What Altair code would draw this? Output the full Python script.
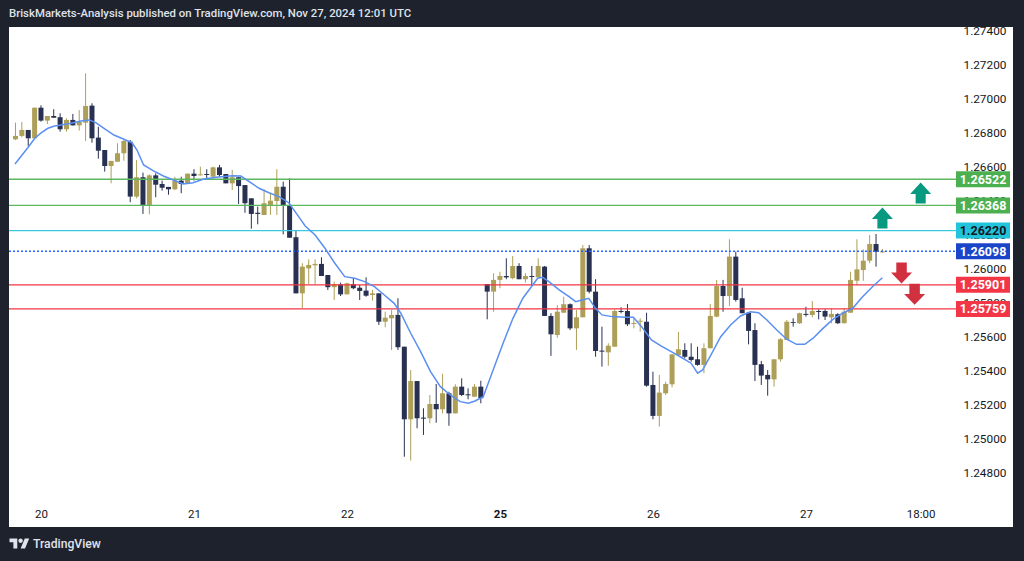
import altair as alt
import pandas as pd

# ---------------- data ----------------
opens = [1.26757, 1.26777, 1.26812, 1.26763, 1.26943, 1.26867, 1.26894, 1.26887, 1.26816, 1.26871,
         1.26839, 1.26855, 1.26955, 1.26767, 1.26694, 1.26600, 1.26625, 1.26675, 1.26743, 1.26420,
         1.26534, 1.26371, 1.26545, 1.26494, 1.26477, 1.26463, 1.26514, 1.26494, 1.26555, 1.26545,
         1.26553, 1.26537, 1.26592, 1.26553, 1.26498, 1.26534, 1.26488, 1.26410, 1.26325, 1.26312,
         1.26371, 1.26394, 1.26478, 1.26371, 1.26181, 1.25851, 1.25998, 1.26016, 1.26024, 1.25959,
         1.25887, 1.25904, 1.25845, 1.25904, 1.25884, 1.25867, 1.25841, 1.25851, 1.25684, 1.25704,
         1.25724, 1.25537, 1.25110, 1.25335, 1.25120, 1.25116, 1.25200, 1.25169, 1.25263, 1.25145,
         1.25302, 1.25257, 1.25243, 1.25302, 1.25906, 1.25861, 1.25930, 1.25953, 1.25940, 1.26012,
         1.25934, 1.25953, 1.25945, 1.26008, 1.25718, 1.25606, 1.25737, 1.25787, 1.25645, 1.25710,
         1.26116, 1.25861, 1.25514, 1.25504, 1.25537, 1.25747, 1.25747, 1.25671, 1.25684, 1.25684,
         1.25312, 1.25130, 1.25263, 1.25316, 1.25488, 1.25518, 1.25478, 1.25463, 1.25430, 1.25528,
         1.25714, 1.25894, 1.25835, 1.26067, 1.25822, 1.25737, 1.25635, 1.25434, 1.25371, 1.25345,
         1.25463, 1.25577, 1.25682, 1.25675, 1.25730, 1.25724, 1.25747, 1.25747, 1.25710, 1.25728,
         1.25675, 1.25737, 1.25925, 1.25988, 1.26043, 1.26141, 1.26092]
highs = [1.26855, 1.26859, 1.26812, 1.26943, 1.26957, 1.26894, 1.26934, 1.26910, 1.26881, 1.26906,
         1.26929, 1.27145, 1.26969, 1.26831, 1.26694, 1.26630, 1.26734, 1.26753, 1.26753, 1.26635,
         1.26561, 1.26551, 1.26557, 1.26514, 1.26477, 1.26537, 1.26537, 1.26555, 1.26581, 1.26596,
         1.26581, 1.26596, 1.26606, 1.26553, 1.26577, 1.26534, 1.26488, 1.26410, 1.26361, 1.26463,
         1.26443, 1.26581, 1.26508, 1.26528, 1.26224, 1.26028, 1.26051, 1.26051, 1.26063, 1.25959,
         1.25920, 1.25914, 1.25914, 1.25940, 1.25900, 1.25945, 1.25871, 1.25851, 1.25743, 1.25753,
         1.25822, 1.25537, 1.25400, 1.25335, 1.25175, 1.25253, 1.25318, 1.25377, 1.25272, 1.25316,
         1.25351, 1.25292, 1.25318, 1.25337, 1.25906, 1.25969, 1.25978, 1.26057, 1.26071, 1.26028,
         1.25969, 1.26012, 1.26057, 1.26012, 1.25734, 1.25782, 1.25831, 1.25792, 1.25753, 1.26135,
         1.26135, 1.25934, 1.25655, 1.25557, 1.25757, 1.25769, 1.25788, 1.25704, 1.25704, 1.25737,
         1.25390, 1.25371, 1.25331, 1.25492, 1.25625, 1.25557, 1.25557, 1.25537, 1.25557, 1.25788,
         1.25930, 1.25930, 1.26169, 1.26096, 1.25884, 1.25737, 1.25675, 1.25453, 1.25400, 1.25463,
         1.25587, 1.25694, 1.25704, 1.25737, 1.25772, 1.25806, 1.25757, 1.25757, 1.25763, 1.25734,
         1.25763, 1.25978, 1.26169, 1.26110, 1.26194, 1.26200, 1.26112]
lows = [1.26753, 1.26769, 1.26718, 1.26763, 1.26861, 1.26847, 1.26884, 1.26802, 1.26802, 1.26839,
        1.26808, 1.26747, 1.26737, 1.26643, 1.26567, 1.26498, 1.26625, 1.26631, 1.26387, 1.26410,
        1.26318, 1.26316, 1.26416, 1.26455, 1.26431, 1.26459, 1.26440, 1.26494, 1.26514, 1.26545,
        1.26522, 1.26528, 1.26537, 1.26498, 1.26459, 1.26377, 1.26325, 1.26231, 1.26257, 1.26312,
        1.26312, 1.26312, 1.26198, 1.26178, 1.25851, 1.25763, 1.25906, 1.25906, 1.25953, 1.25871,
        1.25812, 1.25835, 1.25845, 1.25875, 1.25812, 1.25831, 1.25808, 1.25665, 1.25651, 1.25518,
        1.25518, 1.24890, 1.24867, 1.25057, 1.25018, 1.25087, 1.25090, 1.25145, 1.25072, 1.25145,
        1.25247, 1.25228, 1.25243, 1.25204, 1.25698, 1.25743, 1.25881, 1.25934, 1.25934, 1.25934,
        1.25914, 1.25894, 1.25945, 1.25718, 1.25483, 1.25590, 1.25737, 1.25635, 1.25518, 1.25710,
        1.25851, 1.25478, 1.25420, 1.25425, 1.25537, 1.25734, 1.25659, 1.25645, 1.25625, 1.25302,
        1.25110, 1.25067, 1.25253, 1.25298, 1.25483, 1.25469, 1.25449, 1.25425, 1.25381, 1.25528,
        1.25710, 1.25743, 1.25777, 1.25802, 1.25734, 1.25551, 1.25335, 1.25312, 1.25249, 1.25302,
        1.25449, 1.25577, 1.25655, 1.25671, 1.25714, 1.25710, 1.25698, 1.25694, 1.25675, 1.25671,
        1.25675, 1.25737, 1.25900, 1.25925, 1.26028, 1.26008, 1.26090]
closes = [1.26777, 1.26812, 1.26763, 1.26943, 1.26867, 1.26894, 1.26884, 1.26816, 1.26871, 1.26839,
          1.26859, 1.26953, 1.26763, 1.26690, 1.26600, 1.26630, 1.26675, 1.26747, 1.26420, 1.26534,
          1.26371, 1.26545, 1.26490, 1.26472, 1.26463, 1.26514, 1.26494, 1.26555, 1.26541, 1.26551,
          1.26547, 1.26592, 1.26547, 1.26498, 1.26534, 1.26482, 1.26381, 1.26318, 1.26318, 1.26381,
          1.26396, 1.26478, 1.26365, 1.26178, 1.25851, 1.26008, 1.26018, 1.26024, 1.25953, 1.25887,
          1.25906, 1.25845, 1.25910, 1.25881, 1.25865, 1.25837, 1.25851, 1.25684, 1.25708, 1.25724,
          1.25534, 1.25110, 1.25335, 1.25116, 1.25114, 1.25200, 1.25169, 1.25263, 1.25145, 1.25302,
          1.25253, 1.25251, 1.25302, 1.25234, 1.25861, 1.25930, 1.25953, 1.25945, 1.26012, 1.25934,
          1.25953, 1.25947, 1.26012, 1.25718, 1.25610, 1.25743, 1.25787, 1.25645, 1.25710, 1.26116,
          1.25861, 1.25512, 1.25508, 1.25543, 1.25747, 1.25741, 1.25669, 1.25677, 1.25690, 1.25308,
          1.25130, 1.25267, 1.25318, 1.25492, 1.25522, 1.25478, 1.25459, 1.25430, 1.25528, 1.25718,
          1.25894, 1.25835, 1.26067, 1.25812, 1.25734, 1.25630, 1.25430, 1.25367, 1.25345, 1.25463,
          1.25581, 1.25684, 1.25677, 1.25734, 1.25724, 1.25747, 1.25741, 1.25714, 1.25730, 1.25675,
          1.25743, 1.25930, 1.25992, 1.26043, 1.26141, 1.26096, 1.26098]

# moving average line (bar index, price)
ma_idx = [-0.08, 1.99, 3.03, 4.07, 5.09, 6.13, 7.17, 8.72, 10.27, 11.56, 12.60, 13.89, 15.44, 17.0,
          18.28, 19.06, 20.10, 21.65, 23.20, 24.76, 26.31, 27.86, 29.41, 31.48, 34.07, 35.36, 36.66,
          38.21, 39.76, 41.32, 42.87, 44.42, 45.45, 47.00, 48.55, 50.10, 51.65, 53.21, 54.76, 56.31,
          57.86, 59.41, 60.45, 62.0, 63.56, 65.11, 66.66, 68.21, 69.77, 71.05, 72.09, 73.38, 74.93,
          76.49, 78.04, 79.59, 81.14, 81.92, 82.69, 83.73, 85.29, 86.84, 87.88, 88.90, 89.94, 90.98,
          92.01, 93.56, 95.64, 96.93, 98.21, 99.77, 101.32, 102.87, 104.42, 105.98, 107.01, 107.79,
          109.08, 110.63, 112.18, 113.74, 115.29, 116.59, 117.88, 119.43, 120.98, 122.53, 123.82,
          125.13, 126.68, 128.23, 129.78, 131.33, 132.89, 134.44, 135.99]
ma_price = [1.26612, 1.26710, 1.26763, 1.26796, 1.26822, 1.26835, 1.26841, 1.26851, 1.26865, 1.26871,
            1.26855, 1.26822, 1.26782, 1.26757, 1.26737, 1.26694, 1.26606, 1.26571, 1.26541, 1.26518,
            1.26494, 1.26502, 1.26522, 1.26534, 1.26543, 1.26541, 1.26508, 1.26469, 1.26443, 1.26420,
            1.26384, 1.26302, 1.26247, 1.26194, 1.26116, 1.26028, 1.25949, 1.25940, 1.25920, 1.25890,
            1.25841, 1.25792, 1.25734, 1.25616, 1.25508, 1.25390, 1.25302, 1.25253, 1.25214, 1.25204,
            1.25218, 1.25243, 1.25400, 1.25557, 1.25704, 1.25822, 1.25900, 1.25940, 1.25945, 1.25918,
            1.25871, 1.25831, 1.25802, 1.25812, 1.25822, 1.25763, 1.25724, 1.25714, 1.25710, 1.25710,
            1.25655, 1.25577, 1.25541, 1.25508, 1.25475, 1.25440, 1.25381, 1.25400, 1.25488, 1.25596,
            1.25665, 1.25718, 1.25743, 1.25737, 1.25694, 1.25635, 1.25581, 1.25551, 1.25551, 1.25587,
            1.25645, 1.25698, 1.25734, 1.25763, 1.25831, 1.25890, 1.25943]

level_prices = [1.26522, 1.26368, 1.26220, 1.25901, 1.25759]
level_kinds = ["resistance", "resistance", "pivot", "support", "support"]
last_price = [1.26098]

tag_prices = [1.26522, 1.26368, 1.26220, 1.26098, 1.25901, 1.25759]
tag_kinds = ["resistance", "resistance", "pivot", "last", "support", "support"]

arrow_idx = [142.0, 136.0, 139.0, 141.05]
arrow_price = [1.26441, 1.26294, 1.25971, 1.25845]
arrow_dir = ["up", "up", "down", "down"]

day_ticks = [4, 28, 52, 76, 100, 124, 142]
day_labels = ["20", "21", "22", "25", "26", "27", "18:00"]
price_ticks = [1.248, 1.250, 1.252, 1.254, 1.256, 1.258, 1.260, 1.262, 1.264, 1.266,
               1.268, 1.270, 1.272, 1.274]

title_text = "BriskMarkets-Analysis published on TradingView.com, Nov 27, 2024 12:01 UTC"

# ---------------- styling ----------------
BG = "#1e222d"
UP = "#ad9f57"
DOWN = "#283152"
FONT = "Roboto"
W, H = 941, 478

candles = pd.DataFrame({"i": list(range(len(opens))), "o": opens, "h": highs, "l": lows, "c": closes})
candles["d"] = ["up" if c >= o else "down" for o, c in zip(opens, closes)]
ma = pd.DataFrame({"i": ma_idx, "p": ma_price})
levels = pd.DataFrame({"p": level_prices, "k": level_kinds})
lastdf = pd.DataFrame({"p": last_price})
tags = pd.DataFrame({"p": tag_prices, "k": tag_kinds, "t": [f"{v:.5f}" for v in tag_prices]})
arrows = pd.DataFrame({"i": arrow_idx, "p": arrow_price, "d": arrow_dir})
one = pd.DataFrame({"t": [title_text]})

x_lo = -1.5 / 6.443
x_hi = x_lo + W / 6.443
y_hi = 1.274 + 3 / 17000
y_lo = 1.274 - 475 / 17000
XS = alt.Scale(domain=[x_lo, x_hi], nice=False, zero=False)
YS = alt.Scale(domain=[y_lo, y_hi], nice=False, zero=False)

label_expr = " : ".join(f"datum.value == {t} ? '{l}'" for t, l in zip(day_ticks, day_labels)) + " : ''"
X_AX = alt.Axis(values=day_ticks, labelExpr=label_expr, title=None, ticks=False, domain=False,
                grid=False, labelColor="#131722", labelFontSize=11.5, labelFont=FONT,
                labelPadding=3, labelFlush=False, labelOverlap=False,
                labelFontWeight=alt.condition("datum.value == 76", alt.value("bold"), alt.value("normal")))
Y_AX = alt.Axis(orient="right", values=price_ticks, format=".5f", title=None, ticks=False,
                domain=False, grid=False, labelColor="#131722", labelFontSize=11.8, labelFont=FONT,
                labelPadding=13, labelOverlap=False, labelFlush=False)

# dark frame around the white chart panel (drawn as strips so the axes stay visible)
frame_top = alt.Chart(one).mark_rect(color=BG).encode(
    x=alt.value(-9), x2=alt.value(1015), y=alt.value(-27), y2=alt.value(0))
frame_bottom = alt.Chart(one).mark_rect(color=BG).encode(
    x=alt.value(-9), x2=alt.value(1015), y=alt.value(500), y2=alt.value(534))
frame_left = alt.Chart(one).mark_rect(color=BG).encode(
    x=alt.value(-9), x2=alt.value(0), y=alt.value(-27), y2=alt.value(534))
frame_right = alt.Chart(one).mark_rect(color=BG).encode(
    x=alt.value(1004), x2=alt.value(1015), y=alt.value(-27), y2=alt.value(534))

wicks = alt.Chart(candles).mark_rule(strokeWidth=1).encode(
    x=alt.X("i:Q", scale=XS, axis=X_AX),
    y=alt.Y("l:Q", scale=YS, axis=Y_AX), y2="h:Q",
    color=alt.Color("d:N", scale=alt.Scale(domain=["up", "down"], range=[UP, DOWN]), legend=None))
bodies = alt.Chart(candles).mark_bar(size=5).encode(
    x=alt.X("i:Q", scale=XS, axis=X_AX),
    y=alt.Y("o:Q", scale=YS, axis=Y_AX), y2="c:Q",
    color=alt.Color("d:N", scale=alt.Scale(domain=["up", "down"], range=[UP, DOWN]), legend=None))

ma_line = alt.Chart(ma).mark_line(color="#5b8ff2", strokeWidth=1.5).encode(
    x=alt.X("i:Q", scale=XS, axis=X_AX), y=alt.Y("p:Q", scale=YS, axis=Y_AX))

level_rules = alt.Chart(levels).mark_rule(strokeWidth=1.3).encode(
    x=alt.value(0), x2=alt.value(947),
    y=alt.Y("p:Q", scale=YS, axis=Y_AX),
    color=alt.Color("k:N", scale=alt.Scale(domain=["resistance", "pivot", "support"],
                                           range=["#5cb85f", "#38c9dd", "#f23645"]), legend=None))
last_rule = alt.Chart(lastdf).mark_rule(strokeWidth=1.5, strokeDash=[2, 2], color="#2962ff").encode(
    x=alt.value(0), x2=alt.value(947), y=alt.Y("p:Q", scale=YS, axis=Y_AX))

UP_ARROW = "M0,-1 L1,0.1 L0.48,0.1 L0.48,1 L-0.48,1 L-0.48,0.1 L-1,0.1 Z"
DOWN_ARROW = "M-0.5,-1 L0.5,-1 L0.5,-0.03 L1,-0.03 L0,1 L-1,-0.03 L-0.5,-0.03 Z"
arrows_up = alt.Chart(arrows).transform_filter("datum.d == 'up'").mark_point(
    shape=UP_ARROW, filled=True, size=441, opacity=1, color="#089981", strokeWidth=0).encode(
    x=alt.X("i:Q", scale=XS, axis=X_AX), y=alt.Y("p:Q", scale=YS, axis=Y_AX))
arrows_down = alt.Chart(arrows).transform_filter("datum.d == 'down'").mark_point(
    shape=DOWN_ARROW, filled=True, size=441, opacity=1, color="#d1303f", strokeWidth=0).encode(
    x=alt.X("i:Q", scale=XS, axis=X_AX), y=alt.Y("p:Q", scale=YS, axis=Y_AX))

TAG = "M-1,-0.296 L1,-0.296 L1,0.296 L-1,0.296 Z"
tag_boxes = alt.Chart(tags).mark_point(shape=TAG, filled=True, size=2916, opacity=1, strokeWidth=0).encode(
    x=alt.value(974), y=alt.Y("p:Q", scale=YS, axis=Y_AX),
    color=alt.Color("k:N", scale=alt.Scale(domain=["resistance", "pivot", "last", "support"],
                                           range=["#4caf50", "#22c4dc", "#1b45c8", "#f23645"]), legend=None))
tag_text = alt.Chart(tags).mark_text(font=FONT, fontSize=12.5, fontWeight="bold", align="center",
                                     baseline="middle", dy=0.5).encode(
    x=alt.value(974), y=alt.Y("p:Q", scale=YS, axis=Y_AX), text="t:N",
    color=alt.Color("k:N", scale=alt.Scale(domain=["resistance", "pivot", "last", "support"],
                                           range=["#ffffff", "#131722", "#ffffff", "#ffffff"]), legend=None))

title = alt.Chart(one).mark_text(font=FONT, fontSize=11.4, fontWeight=500, color="#dfe2ea",
                                 align="left", baseline="middle").encode(
    text="t:N", x=alt.value(0), y=alt.value(-13))
LOGO = ("M-1,-0.556 L-0.222,-0.556 L-0.222,0.444 L-0.611,0.444 L-0.611,-0.167 L-1,-0.167 Z "
        "M0.111,0.444 L0.528,-0.556 L0.972,-0.556 L0.556,0.444 Z "
        "M-0.111,-0.333 A0.222,0.222 0 1,0 0.333,-0.333 A0.222,0.222 0 1,0 -0.111,-0.333 Z")
logo = alt.Chart(one).mark_point(shape=LOGO, filled=True, size=400, opacity=1, color="#e0e3eb",
                                 strokeWidth=0).encode(x=alt.value(10.5), y=alt.value(517))
logo_text = alt.Chart(one).mark_text(font=FONT, fontSize=12.2, fontWeight=500, color="#e0e3eb",
                                     align="left", baseline="middle", text="TradingView").encode(
    x=alt.value(24), y=alt.value(517))

chart = alt.layer(
    frame_top, frame_bottom, frame_left, frame_right,
    wicks, bodies, level_rules, last_rule, ma_line, arrows_up, arrows_down,
    tag_boxes, tag_text, title, logo, logo_text
).resolve_scale(color="independent").properties(
    width=W, height=H,
    autosize=alt.AutoSizeParams(type="none"),
    padding={"left": 9, "top": 27, "right": 74, "bottom": 56},
    background="white",
).configure_view(stroke=None)

chart.save("out.html", embed_options={"renderer": "svg", "actions": False})
